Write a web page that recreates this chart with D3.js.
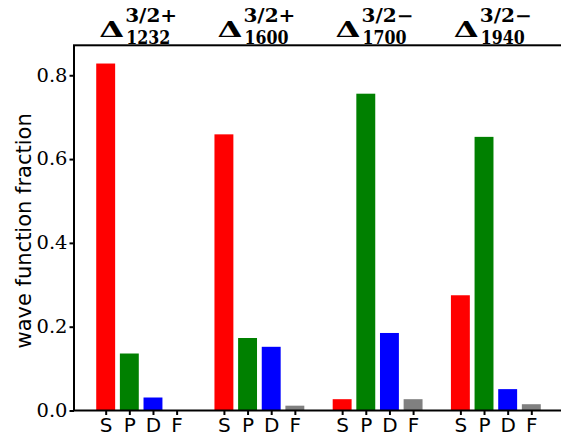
<!DOCTYPE html>
<html>
<head>
<meta charset="utf-8">
<script src="https://cdn.jsdelivr.net/npm/d3@7"></script>
<style>
  html, body { margin: 0; padding: 0; background: #fff; }
  svg { display: block; }
</style>
</head>
<body>
<svg id="chart" width="561" height="438"></svg>
<script>
// Resonance states (masses in MeV) and their J^P labels
const stateMass = ["1232", "1600", "1700", "1940"];
const stateJP = ["3/2+", "3/2+", "3/2\u2212", "3/2\u2212"];

// Partial waves shown inside each group
const waves = ["S", "P", "D", "F"];
const waveColors = ["#ff0000", "#008000", "#0000ff", "#808080"];

// Wave function fractions per partial wave, one value per state
const sWave = [0.828, 0.659, 0.027, 0.275];
const pWave = [0.136, 0.173, 0.756, 0.653];
const dWave = [0.031, 0.152, 0.185, 0.051];
const fWave = [0.000, 0.0115, 0.027, 0.015];

const yTicks = [0.0, 0.2, 0.4, 0.6, 0.8];

const waveSeries = [sWave, pWave, dWave, fWave];

// Flatten into bars: group g, wave w sits at position g*5 + w
const bars = [];
stateMass.forEach((m, g) => {
  waves.forEach((w, k) => {
    bars.push({ pos: g * 5 + k, wave: w, k, value: waveSeries[k][g] });
  });
});

const svg = d3.select("#chart");
const plotLeft = 74, plotTop = 45.3, plotBottom = 410.5, plotRight = 563;

const x = d3.scaleLinear().domain([-1.34, 19.34]).range([plotLeft, plotRight]);
const y = d3.scaleLinear().domain([0, 0.8715]).range([plotBottom, plotTop]);

// Bars
svg.append("g")
  .selectAll("rect")
  .data(bars)
  .join("rect")
  .attr("x", d => x(d.pos - 0.4))
  .attr("width", d => x(d.pos + 0.4) - x(d.pos - 0.4))
  .attr("y", d => y(d.value))
  .attr("height", d => y(0) - y(d.value))
  .attr("fill", d => waveColors[d.k]);

// Y axis
const yAxis = svg.append("g")
  .attr("transform", `translate(${plotLeft},0)`)
  .call(d3.axisLeft(y).tickValues(yTicks).tickSize(4.5).tickPadding(2).tickFormat(d3.format(".1f")));
yAxis.select(".domain").remove();
yAxis.selectAll(".tick line").attr("stroke", "#000").attr("stroke-width", 2);
yAxis.selectAll(".tick text")
  .attr("font-family", "'DejaVu Serif', serif")
  .attr("font-size", 18)
  .attr("textLength", 31).attr("lengthAdjust", "spacingAndGlyphs")
  .attr("fill", "#000");

// X axis with wave letters
const xAxis = svg.append("g")
  .attr("transform", `translate(0,${plotBottom})`)
  .call(d3.axisBottom(x).tickValues(bars.map(d => d.pos)).tickSize(4.5).tickPadding(3)
    .tickFormat(p => waves[p % 5]));
xAxis.select(".domain").remove();
xAxis.selectAll(".tick line").attr("stroke", "#000").attr("stroke-width", 2);
xAxis.selectAll(".tick text")
  .attr("font-family", "'DejaVu Sans', sans-serif")
  .attr("font-size", 20)
  .attr("fill", "#000");

// Spines
svg.append("rect")
  .attr("x", plotLeft).attr("y", plotTop)
  .attr("width", plotRight - plotLeft).attr("height", plotBottom - plotTop)
  .attr("fill", "none").attr("stroke", "#000").attr("stroke-width", 2);

// Y label
svg.append("text")
  .attr("transform", `translate(31,${(plotTop + plotBottom) / 2 + 3}) rotate(-90)`)
  .attr("text-anchor", "middle")
  .attr("font-family", "'DejaVu Sans', sans-serif")
  .attr("font-size", 21)
  .attr("fill", "#000")
  .text("wave function fraction");

// State titles above each group: Delta with J^P superscript and mass subscript
stateMass.forEach((m, g) => {
  const cx = x(g * 5 + 1.5) - 3;
  const t = svg.append("g").attr("transform", `translate(${cx - 39},0)`);
  t.append("text")
    .attr("x", 0).attr("y", 37)
    .attr("font-family", "'DejaVu Serif', serif")
    .attr("font-weight", "bold")
    .attr("font-size", 23)
    .attr("textLength", 25).attr("lengthAdjust", "spacingAndGlyphs")
    .text("\u0394");
  t.append("text")
    .attr("x", 26).attr("y", 22)
    .attr("font-family", "'DejaVu Serif', serif")
    .attr("font-weight", "bold")
    .attr("font-size", 18)
    .attr("textLength", 52).attr("lengthAdjust", "spacingAndGlyphs")
    .text(stateJP[g]);
  t.append("text")
    .attr("x", 27).attr("y", 44)
    .attr("font-family", "'DejaVu Serif', serif")
    .attr("font-weight", "bold")
    .attr("font-size", 18)
    .attr("textLength", 44).attr("lengthAdjust", "spacingAndGlyphs")
    .text(m);
});
</script>
</body>
</html>
